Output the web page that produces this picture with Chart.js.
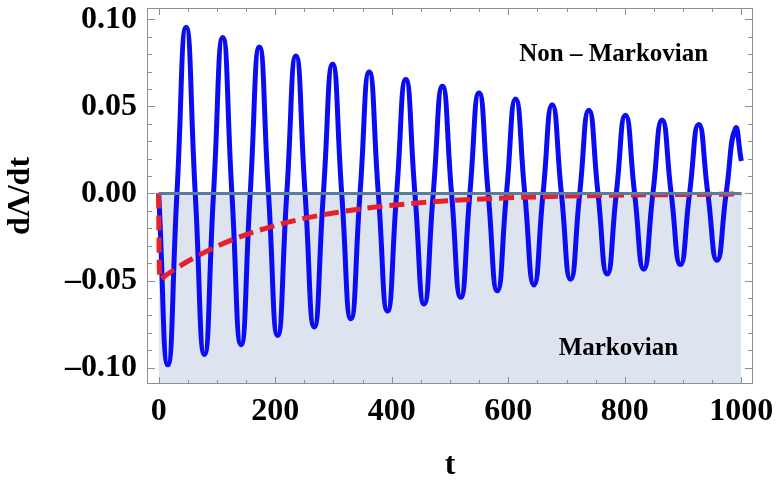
<!DOCTYPE html>
<html>
<head>
<meta charset="utf-8">
<title>dΛ/dt</title>
<script src="https://cdn.jsdelivr.net/npm/chart.js@4.4.1/dist/chart.umd.min.js"></script>
<style>
  html, body { margin: 0; padding: 0; background: #fff; }
  #wrap { width: 782px; height: 490px; }
</style>
</head>
<body>
<div id="wrap"><canvas id="chart" width="782" height="490"></canvas></div>
<script>
// === Data ===
// Non-Markovian curve: zero crossings, troughs and peaks
const blueT = [
  0, 15.7, 31.4, 47.1, 62.8, 78.5, 94.2, 110.0, 125.7, 141.4, 157.1, 172.8, 188.5, 204.2, 219.9, 235.6,
  251.3, 267.0, 282.7, 298.5, 314.2, 329.9, 345.6, 361.3, 377.0, 392.7, 408.4, 424.1, 439.8, 455.5, 471.2, 487.0,
  502.7, 518.4, 534.1, 549.8, 565.5, 581.2, 596.9, 612.6, 628.3, 644.0, 659.7, 675.4, 691.2, 706.9, 722.6, 738.3,
  754.0, 769.7, 785.4, 801.1, 816.8, 832.5, 848.2, 863.9, 879.6, 895.4, 911.1, 926.8, 942.5, 958.2, 973.9, 989.6,
  1000
];
const blueY = [
  0, -0.0984, 0, 0.0954, 0, -0.0925, 0, 0.0896, 0, -0.0868, 0, 0.0841, 0, -0.0815, 0, 0.0790,
  0, -0.0766, 0, 0.0742, 0, -0.0719, 0, 0.0697, 0, -0.0675, 0, 0.0654, 0, -0.0634, 0, 0.0615,
  0, -0.0596, 0, 0.0577, 0, -0.0559, 0, 0.0542, 0, -0.0525, 0, 0.0509, 0, -0.0493, 0, 0.0478,
  0, -0.0463, 0, 0.0449, 0, -0.0435, 0, 0.0422, 0, -0.0408, 0, 0.0396, 0, -0.0384, 0, 0.0372,
  0.0186
];

// Markovian curve (red dashed)
const redT = [0, 1, 2.5, 10, 25, 50, 75, 100, 150, 200, 250, 300, 350, 400, 500, 600, 700, 800, 900, 1000];
const redY = [0, -0.040, -0.0494, -0.0476, -0.0441, -0.0389, -0.0344, -0.0303, -0.0236, -0.0184,
  -0.0143, -0.0112, -0.0087, -0.0068, -0.0041, -0.0025, -0.0015, -0.0009, -0.0006, -0.0003];

// Zero line, shaded underneath
const zeroT = [0, 1000];
const zeroY = [0, 0];

const xTicks = [0, 200, 400, 600, 800, 1000];
const yTicks = [-0.10, -0.05, 0, 0.05, 0.10];

const SERIF = '"Liberation Serif", "Times New Roman", serif';

function pts(xs, ys) {
  return xs.map((x, i) => ({ x: x, y: ys[i] }));
}

// Frame, inward ticks on all sides, and region labels
const framePlugin = {
  id: 'frame',
  afterDatasetsDraw(chart) {
    const { ctx, chartArea: a, scales: { x, y } } = chart;
    ctx.save();
    ctx.strokeStyle = '#8e8e8e';
    ctx.lineWidth = 1;
    ctx.strokeRect(a.left + 0.5, a.top + 0.5, a.width - 1, a.height - 1);
    ctx.beginPath();
    for (let v = 0; v <= 1000; v += 50) {
      const px = Math.round(x.getPixelForValue(v)) + 0.5;
      const len = v % 200 === 0 ? 7 : 4;
      ctx.moveTo(px, a.bottom); ctx.lineTo(px, a.bottom - len);
      ctx.moveTo(px, a.top); ctx.lineTo(px, a.top + len);
    }
    for (let i = -10; i <= 10; i++) {
      const py = Math.round(y.getPixelForValue(i / 100)) + 0.5;
      const len = i % 5 === 0 ? 8 : 5;
      ctx.moveTo(a.left, py); ctx.lineTo(a.left + len, py);
      ctx.moveTo(a.right, py); ctx.lineTo(a.right - len, py);
    }
    ctx.stroke();

    ctx.fillStyle = '#000';
    ctx.font = 'bold 25px ' + SERIF;
    ctx.textAlign = 'center';
    ctx.textBaseline = 'alphabetic';
    ctx.fillText('Non \u2013 Markovian', x.getPixelForValue(781), y.getPixelForValue(0.076));
    ctx.fillText('Markovian', x.getPixelForValue(789), y.getPixelForValue(-0.0927));
    ctx.restore();
  }
};

const tickFont = { family: SERIF, size: 32, weight: 'bold' };

new Chart(document.getElementById('chart'), {
  type: 'line',
  data: {
    datasets: [
      {
        label: 'zero',
        data: pts(zeroT, zeroY),
        borderColor: '#5b7b9c',
        borderWidth: 3,
        backgroundColor: '#dde3ef',
        fill: 'start',
        pointRadius: 0,
        order: 0
      },
      {
        label: 'Markovian',
        data: pts(redT, redY),
        borderColor: '#e6212a',
        borderWidth: 5,
        borderDash: [15, 7],
        cubicInterpolationMode: 'monotone',
        fill: false,
        pointRadius: 0,
        order: 1
      },
      {
        label: 'Non-Markovian',
        data: pts(blueT, blueY),
        borderColor: '#0c0cf4',
        borderWidth: 5,
        tension: 0.55,
        fill: false,
        pointRadius: 0,
        order: 2
      }
    ]
  },
  options: {
    responsive: false,
    animation: false,
    layout: { padding: { left: 0, top: 8, right: 29, bottom: 0 } },
    plugins: {
      legend: { display: false },
      tooltip: { enabled: false },
      filler: { drawTime: 'beforeDatasetsDraw' }
    },
    scales: {
      x: {
        type: 'linear',
        min: -20,
        max: 1020,
        afterBuildTicks: s => { s.ticks = xTicks.map(v => ({ value: v })); },
        afterFit: s => { s.height = 106; s.paddingLeft = 0; s.paddingRight = 0; },
        grid: { display: false, drawTicks: false },
        border: { display: false },
        ticks: { padding: 9, font: tickFont, color: '#000', maxRotation: 0, autoSkip: false,
                 callback: v => String(v) },
        title: { display: true, text: 't', color: '#000', font: tickFont, padding: { top: 0, bottom: 5 } }
      },
      y: {
        type: 'linear',
        min: -0.1094,
        max: 0.1065,
        afterBuildTicks: s => { s.ticks = yTicks.map(v => ({ value: v })); },
        afterFit: s => { s.width = 147; s.paddingTop = 0; s.paddingBottom = 0; },
        grid: { display: false, drawTicks: false },
        border: { display: false },
        ticks: { padding: 10, font: tickFont, color: '#000', autoSkip: false,
                 callback: v => (v < 0 ? '\u2013' : '') + Math.abs(v).toFixed(2) },
        title: { display: true, text: 'd\u039B/dt', color: '#000', font: tickFont, padding: { top: 2, bottom: 0 } }
      }
    }
  },
  plugins: [framePlugin]
});
</script>
</body>
</html>
